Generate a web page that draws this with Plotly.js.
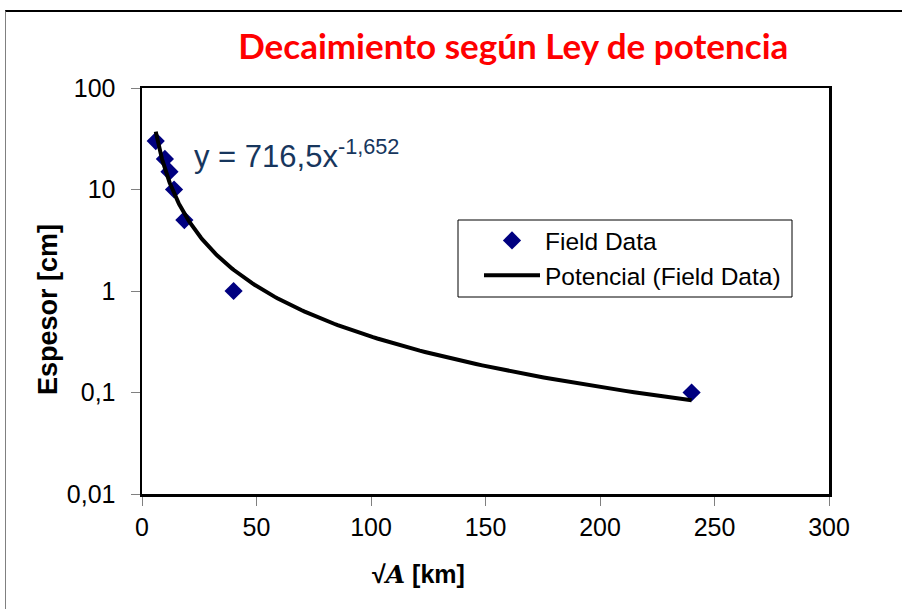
<!DOCTYPE html>
<html>
<head>
<meta charset="utf-8">
<script src="https://cdn.plot.ly/plotly-3.0.1.min.js"></script>
<style>
  html, body { margin: 0; padding: 0; background: #ffffff; }
  #frame { position: absolute; left: 5px; top: 10px; width: 897px; height: 599px;
           border-top: 2px solid #000000; border-left: 1px solid #808080; box-sizing: border-box; }
  #chart { position: absolute; left: 0; top: 0; width: 902px; height: 609px; }
</style>
</head>
<body>
<div id="frame"></div>
<div id="chart"></div>
<script>
// Field measurements: sqrt(area) in km vs. deposit thickness in cm
const sqrtArea = [6, 10, 12, 14, 18.5, 40, 240];
const thickness = [30, 20, 15, 10, 5, 1, 0.1];

// Power-law trend y = a * x^b, as stated in the equation label
const fitA = 716.5;
const fitB = -1.652;
const fitStart = 6;
const fitEnd = 240;

const yTickVals = [0.01, 0.1, 1, 10, 100];
const yTickText = ['0,01', '0,1', '1', '10', '100'];
const xTickVals = [0, 50, 100, 150, 200, 250, 300];

// Sample the trend curve along the fitted range
const trendX = [];
const trendY = [];
const nSteps = 200;
for (let i = 0; i <= nSteps; i++) {
  const x = fitStart * Math.pow(fitEnd / fitStart, i / nSteps);
  trendX.push(x);
  trendY.push(fitA * Math.pow(x, fitB));
}

const traces = [
  {
    x: sqrtArea, y: thickness, type: 'scatter', mode: 'markers', name: 'Field Data',
    legendgroup: 'data',
    marker: { symbol: 'diamond', size: 14, color: '#000080' }
  },
  {
    x: trendX, y: trendY, type: 'scatter', mode: 'lines', name: 'Potencial (Field Data)',
    legendgroup: 'trend',
    line: { color: '#000000', width: 4 }
  }
];

const sans = 'Liberation Sans, Arial, sans-serif';
const tickFont = { family: sans, size: 25, color: '#000000' };

const layout = {
  width: 902, height: 609,
  margin: { l: 142, r: 73, t: 88, b: 115 },
  paper_bgcolor: 'rgba(0,0,0,0)',
  plot_bgcolor: '#ffffff',
  showlegend: true,
  title: {
    text: '<b>Decaimiento según Ley de potencia</b>',
    font: { family: 'Lato, Carlito, sans-serif', size: 35, color: '#ff0000' },
    x: 0.569, xanchor: 'center', y: 0.923, yanchor: 'middle'
  },
  xaxis: {
    range: [0, 300], tickvals: xTickVals, ticks: 'outside', ticklen: 9, tickcolor: '#808080',
    showgrid: false, zeroline: false, showline: true, linecolor: '#000000', linewidth: 2.5,
    mirror: true, tickfont: tickFont, ticklabelstandoff: 0
  },
  yaxis: {
    type: 'log', range: [-2, 2], tickvals: yTickVals, ticktext: yTickText,
    ticks: 'outside', ticklen: 9, tickcolor: '#808080',
    showgrid: false, zeroline: false, showline: true, linecolor: '#000000', linewidth: 2.5,
    mirror: true, tickfont: tickFont, ticklabelstandoff: 10
  },
  legend: {
    x: (479 - 142) / 687, y: (494 - 218) / 406, xanchor: 'left', yanchor: 'top',
    bgcolor: 'rgba(0,0,0,0)', borderwidth: 0,
    font: { family: sans, size: 24.5, color: '#000000' },
    traceorder: 'grouped', tracegroupgap: 0, itemwidth: 56
  },
  shapes: [
    {
      type: 'rect', xref: 'paper', yref: 'paper', layer: 'above',
      x0: (458 - 142) / 687, x1: (792 - 142) / 687,
      y0: (494 - 297) / 406, y1: (494 - 220) / 406,
      line: { color: '#000000', width: 1 }, fillcolor: 'rgba(0,0,0,0)'
    }
  ],
  annotations: [
    {
      x: 22, y: 1.345, xref: 'x', yref: 'y', xanchor: 'left', yanchor: 'middle',
      text: 'y = 716,5x<sup>-1,652</sup>', showarrow: false,
      font: { family: sans, size: 31, color: '#17365D' }
    },
    {
      x: (418 - 142) / 687, y: (494 - 574) / 406, xref: 'paper', yref: 'paper',
      xanchor: 'center', yanchor: 'middle', showarrow: false,
      text: '<b>√<span style="font-family:DejaVu Serif;font-style:italic">A</span> [km]</b>',
      font: { family: sans, size: 25, color: '#000000' }
    },
    {
      x: (48 - 142) / 687, y: (494 - 310) / 406, xref: 'paper', yref: 'paper',
      xanchor: 'center', yanchor: 'middle', showarrow: false, textangle: -90,
      text: '<b>Espesor [cm]</b>',
      font: { family: sans, size: 27, color: '#000000' }
    }
  ]
};

Plotly.newPlot('chart', traces, layout, { displayModeBar: false, staticPlot: true });
</script>
</body>
</html>
